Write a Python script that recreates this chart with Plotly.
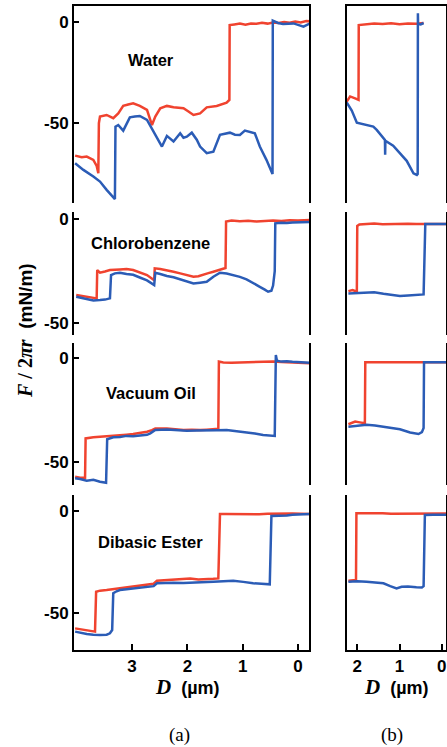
import plotly.graph_objects as go

W, H = 447, 747

# ---------------- data (D in um, F/2piR in mN/m) ----------------
# Row 1: Water, panel (a)
water_a_red_D = [4.03, 3.91, 3.82, 3.70, 3.64, 3.61, 3.60, 3.58, 3.46, 3.34, 3.25, 3.16, 3.07, 2.98, 2.86, 2.73, 2.64, 2.58, 2.49, 2.37, 2.25, 2.07, 1.98, 1.89, 1.77, 1.65, 1.47, 1.29, 1.24, 1.235, 1.15, 1.05, 0.95, 0.85, 0.75, 0.65, 0.55, 0.45, 0.35, 0.25, 0.15, 0.05, -0.05, -0.15, -0.22]
water_a_red_F = [-66.4, -67.2, -66.9, -68.5, -71.5, -75.2, -50.3, -47.0, -46.2, -47.8, -45.4, -41.7, -41.0, -40.4, -41.7, -43.7, -51.2, -47.0, -42.9, -41.7, -42.4, -42.9, -44.5, -46.2, -45.4, -42.4, -41.7, -40.1, -38.7, -1.5, -1.2, -0.8, -1.3, -0.7, -0.9, -0.4, -0.8, -0.3, -0.5, 0.0, -0.4, 0.2, -0.2, 0.5, 0.3]
water_a_blue_D = [4.03, 3.88, 3.70, 3.58, 3.46, 3.37, 3.31, 3.30, 3.25, 3.16, 3.10, 3.04, 2.95, 2.86, 2.73, 2.61, 2.52, 2.46, 2.37, 2.31, 2.25, 2.13, 2.07, 2.01, 1.92, 1.83, 1.77, 1.65, 1.53, 1.41, 1.23, 1.14, 1.05, 0.96, 0.87, 0.78, 0.69, 0.57, 0.46, 0.455, 0.36, 0.27, 0.08, -0.01, -0.10, -0.22]
water_a_blue_F = [-70.2, -73.5, -76.8, -79.3, -83.4, -86.0, -88.0, -52.0, -51.2, -54.0, -50.7, -47.4, -47.0, -46.7, -48.7, -54.5, -58.5, -61.9, -56.6, -58.0, -59.4, -55.3, -57.5, -57.0, -55.0, -58.5, -61.9, -65.2, -64.4, -56.1, -55.0, -56.0, -56.1, -54.0, -54.5, -55.3, -61.9, -68.5, -75.5, 0.7, -0.5, -1.0, -0.7, -1.5, -2.3, -0.7]

# Row 1: Water, panel (b)
water_b_red_D = [2.25, 2.17, 2.05, 1.97, 1.965, 1.80, 1.60, 1.40, 1.20, 1.00, 0.80, 0.60, 0.43]
water_b_red_F = [-39.6, -37.0, -38.0, -38.7, -1.5, -1.2, -0.8, -1.0, -0.6, -1.1, -0.7, -0.9, -0.5]
water_b_blue_D = [2.25, 2.13, 2.01, 1.78, 1.62, 1.54, 1.345, 1.34, 1.335, 1.15, 0.99, 0.83, 0.67, 0.59, 0.57, 0.565, 0.56, 0.50, 0.43]
water_b_blue_F = [-40.0, -44.0, -50.0, -51.2, -52.0, -53.6, -58.6, -66.0, -59.0, -61.5, -65.2, -69.0, -75.2, -76.0, -75.5, 4.3, -1.0, -1.2, -0.5]

# Row 2: Chlorobenzene, panel (a)
chloro_a_red_D = [4.01, 3.91, 3.82, 3.73, 3.64, 3.63, 3.58, 3.49, 3.40, 3.22, 3.10, 2.98, 2.86, 2.73, 2.60, 2.59, 2.49, 2.37, 2.25, 2.13, 2.01, 1.89, 1.80, 1.71, 1.62, 1.53, 1.44, 1.35, 1.31, 1.30, 1.20, 1.05, 0.90, 0.75, 0.60, 0.45, 0.30, 0.15, 0.00, -0.10, -0.22]
chloro_a_red_F = [-36.6, -37.0, -37.4, -37.8, -38.2, -24.5, -25.8, -25.2, -24.5, -24.2, -24.0, -24.5, -25.5, -26.9, -29.4, -23.7, -24.0, -24.5, -25.3, -26.1, -27.0, -27.7, -27.5, -26.9, -26.0, -25.3, -24.5, -23.7, -23.5, -1.1, -0.6, -0.9, -0.7, -1.0, -0.8, -0.6, -0.8, -0.4, -0.6, -0.3, -0.3]
chloro_a_blue_D = [4.01, 3.91, 3.82, 3.70, 3.58, 3.49, 3.40, 3.38, 3.31, 3.22, 3.10, 2.98, 2.86, 2.73, 2.60, 2.58, 2.49, 2.37, 2.25, 2.13, 2.01, 1.89, 1.77, 1.65, 1.53, 1.41, 1.29, 1.17, 1.05, 0.93, 0.81, 0.69, 0.60, 0.54, 0.48, 0.45, 0.42, 0.41, 0.30, 0.20, 0.10, 0.00, -0.10, -0.22]
chloro_a_blue_F = [-37.4, -38.0, -38.7, -39.2, -39.0, -38.8, -38.2, -26.9, -26.1, -25.8, -26.4, -26.8, -28.1, -29.5, -31.8, -25.8, -26.4, -27.4, -28.0, -29.0, -30.0, -31.0, -30.6, -30.2, -27.7, -25.8, -26.2, -26.9, -27.8, -29.0, -30.6, -32.6, -34.0, -35.0, -34.5, -32.0, -25.0, -1.9, -1.6, -1.8, -1.5, -1.4, -1.3, -1.3]

# Row 2: Chlorobenzene, panel (b)
chloro_b_red_D = [2.21, 2.11, 2.01, 2.00, 1.95, 1.80, 1.60, 1.40, 1.20, 1.00, 0.80, 0.60, 0.40, 0.20, 0.00, -0.10]
chloro_b_red_F = [-34.7, -34.2, -35.0, -3.2, -2.5, -2.3, -2.0, -2.4, -2.2, -2.3, -2.1, -2.2, -2.3, -2.2, -2.3, -2.3]
chloro_b_blue_D = [2.21, 2.00, 1.78, 1.60, 1.38, 1.20, 0.99, 0.80, 0.60, 0.43, 0.39, 0.20, 0.00, -0.10]
chloro_b_blue_F = [-35.8, -35.6, -35.5, -35.2, -36.0, -36.6, -37.1, -36.8, -36.6, -36.3, -2.3, -2.2, -2.3, -2.3]

# Row 3: Vacuum Oil, panel (a)
vac_a_red_D = [4.03, 3.94, 3.85, 3.84, 3.70, 3.58, 3.46, 3.34, 3.22, 3.10, 2.98, 2.86, 2.73, 2.64, 2.58, 2.37, 2.22, 2.07, 1.92, 1.77, 1.65, 1.53, 1.44, 1.43, 1.35, 1.20, 1.05, 0.90, 0.75, 0.60, 0.45, 0.30, 0.15, 0.00, -0.10, -0.21]
vac_a_red_F = [-56.9, -57.4, -57.4, -38.5, -38.0, -37.8, -37.3, -37.2, -36.9, -36.7, -36.4, -35.9, -35.3, -34.5, -33.7, -33.7, -34.0, -34.5, -34.3, -34.5, -34.3, -34.1, -33.9, -1.6, -2.0, -2.1, -2.0, -2.1, -1.8, -1.6, -1.6, -1.8, -1.9, -2.2, -2.3, -2.4]
vac_a_blue_D = [4.03, 3.94, 3.82, 3.70, 3.58, 3.47, 3.45, 3.34, 3.22, 3.10, 2.98, 2.86, 2.73, 2.67, 2.58, 2.37, 2.19, 2.01, 1.83, 1.65, 1.47, 1.29, 1.11, 0.93, 0.78, 0.63, 0.51, 0.42, 0.40, 0.38, 0.30, 0.20, 0.10, 0.00, -0.10, -0.21]
vac_a_blue_F = [-57.7, -58.0, -58.8, -58.4, -59.3, -59.8, -38.9, -38.0, -37.8, -37.3, -37.5, -37.3, -36.8, -36.1, -34.5, -34.2, -34.6, -34.8, -34.7, -34.8, -34.6, -34.5, -35.0, -35.7, -36.2, -36.9, -37.0, -37.3, 1.6, -1.2, -1.6, -1.4, -1.7, -1.9, -2.0, -2.1]

# Row 3: Vacuum Oil, panel (b)
vac_b_red_D = [2.21, 2.13, 2.05, 1.94, 1.82, 1.81, 1.60, 1.40, 1.20, 1.00, 0.80, 0.60, 0.40, 0.20, 0.00, -0.10]
vac_b_red_F = [-31.7, -31.0, -30.4, -30.8, -31.2, -1.9, -1.9, -2.0, -1.9, -1.9, -2.0, -1.9, -1.9, -1.9, -1.9, -1.9]
vac_b_blue_D = [2.21, 2.01, 1.78, 1.58, 1.38, 1.18, 0.99, 0.75, 0.55, 0.47, 0.43, 0.42, 0.20, 0.00, -0.10]
vac_b_blue_F = [-32.9, -32.4, -32.0, -32.3, -32.9, -33.5, -34.1, -35.7, -36.4, -35.5, -33.5, -1.9, -1.9, -1.9, -1.9]

# Row 4: Dibasic Ester, panel (a)
ester_a_red_D = [4.03, 3.91, 3.82, 3.73, 3.67, 3.65, 3.58, 3.46, 3.34, 3.22, 3.10, 2.98, 2.86, 2.73, 2.61, 2.55, 2.40, 2.25, 2.10, 1.95, 1.80, 1.65, 1.53, 1.44, 1.41, 1.30, 1.15, 1.00, 0.85, 0.70, 0.55, 0.40, 0.25, 0.10, -0.05, -0.21]
ester_a_red_F = [-57.7, -58.3, -58.8, -59.0, -59.3, -39.7, -39.2, -38.9, -38.5, -38.1, -37.7, -37.3, -37.0, -36.4, -35.8, -34.3, -34.0, -33.7, -33.4, -33.2, -33.7, -33.7, -33.4, -33.2, -1.6, -1.6, -1.7, -1.6, -1.6, -1.7, -1.5, -1.4, -1.3, -1.4, -1.5, -1.6]
ester_a_blue_D = [4.03, 3.91, 3.82, 3.70, 3.58, 3.46, 3.40, 3.36, 3.34, 3.28, 3.22, 3.10, 2.98, 2.86, 2.73, 2.61, 2.55, 2.40, 2.25, 2.07, 1.89, 1.71, 1.53, 1.35, 1.17, 0.99, 0.81, 0.66, 0.51, 0.48, 0.40, 0.30, 0.20, 0.10, 0.00, -0.10, -0.21]
ester_a_blue_F = [-59.3, -60.0, -60.5, -60.8, -61.0, -60.8, -60.1, -58.5, -40.5, -39.5, -38.9, -38.5, -38.1, -37.9, -37.6, -37.0, -35.6, -35.4, -35.3, -35.4, -35.3, -35.0, -34.8, -34.6, -34.3, -34.9, -35.6, -35.8, -36.1, -2.6, -2.6, -2.4, -2.3, -2.0, -1.8, -1.6, -1.6]

# Row 4: Dibasic Ester, panel (b)
ester_b_red_D = [2.21, 2.11, 2.03, 2.02, 1.80, 1.60, 1.40, 1.20, 1.00, 0.80, 0.60, 0.40, 0.20, 0.00, -0.10]
ester_b_red_F = [-34.3, -34.3, -34.0, -1.3, -1.2, -1.4, -1.3, -1.5, -1.5, -1.4, -1.4, -1.4, -1.4, -1.4, -1.4]
ester_b_blue_D = [2.21, 2.00, 1.78, 1.58, 1.38, 1.22, 1.07, 0.95, 0.80, 0.60, 0.47, 0.43, 0.40, 0.20, 0.00, -0.10]
ester_b_blue_F = [-34.8, -34.6, -34.8, -35.2, -35.6, -37.0, -38.1, -37.3, -37.2, -37.5, -37.6, -37.0, -2.1, -2.0, -2.0, -2.0]

liquids = ["Water", "Chlorobenzene", "Vacuum Oil", "Dibasic Ester"]
x_ticks_a = [3, 2, 1, 0]
x_ticks_b = [2, 1, 0]
y_ticks = [0, -50]
y_ticktext = ["0", "-50"]

series = [
    [(water_a_red_D, water_a_red_F, water_a_blue_D, water_a_blue_F),
     (water_b_red_D, water_b_red_F, water_b_blue_D, water_b_blue_F)],
    [(chloro_a_red_D, chloro_a_red_F, chloro_a_blue_D, chloro_a_blue_F),
     (chloro_b_red_D, chloro_b_red_F, chloro_b_blue_D, chloro_b_blue_F)],
    [(vac_a_red_D, vac_a_red_F, vac_a_blue_D, vac_a_blue_F),
     (vac_b_red_D, vac_b_red_F, vac_b_blue_D, vac_b_blue_F)],
    [(ester_a_red_D, ester_a_red_F, ester_a_blue_D, ester_a_blue_F),
     (ester_b_red_D, ester_b_red_F, ester_b_blue_D, ester_b_blue_F)],
]

# ---------------- layout geometry (pixels) ----------------
col_px = [(74.0, 309.3), (346.7, 446.0)]
row_px = [(6.0, 203.3), (211.7, 335.0), (343.3, 485.0), (495.0, 650.0)]
x_ranges = [[4.05, -0.205], [2.25, -0.10]]
y_ranges = [[-90.1, 7.95], [-55.9, 3.7], [-60.9, 7.2], [-68.3, 7.7]]

RED = "#f0432f"
BLUE = "#2b5cb6"
SANS = "Liberation Sans, Arial, sans-serif"
SERIF = "Liberation Serif, Times New Roman, serif"

fig = go.Figure()
layout = {}
for r in range(4):
    for c in range(2):
        idx = r * 2 + c + 1
        sfx = "" if idx == 1 else str(idx)
        rd, rf, bd, bf = series[r][c]
        fig.add_trace(go.Scatter(x=rd, y=rf, mode="lines", line=dict(color=RED, width=2.5),
                                 xaxis="x" + sfx, yaxis="y" + sfx, showlegend=False))
        fig.add_trace(go.Scatter(x=bd, y=bf, mode="lines", line=dict(color=BLUE, width=2.5),
                                 xaxis="x" + sfx, yaxis="y" + sfx, showlegend=False))
        xd = [col_px[c][0] / W, col_px[c][1] / W]
        yd = [1 - row_px[r][1] / H, 1 - row_px[r][0] / H]
        xa = dict(domain=xd, range=x_ranges[c], anchor="y" + sfx, showgrid=False, zeroline=False,
                  linecolor="black", linewidth=2, fixedrange=True)
        if r == 3:
            xa.update(showline=True, ticks="inside", ticklen=6, tickwidth=2, tickcolor="black",
                      tickvals=x_ticks_a if c == 0 else x_ticks_b,
                      tickfont=dict(family=SANS, size=17, weight="bold", color="black"))
        elif r == 0:
            xa.update(side="top", showline=True, ticks="", showticklabels=False)
        else:
            xa.update(showline=False, ticks="", showticklabels=False)
        ya = dict(domain=yd, range=y_ranges[r], anchor="x" + sfx, showgrid=False, zeroline=False,
                  showline=True, mirror=True, linecolor="black", linewidth=2, fixedrange=True)
        if c == 0:
            ya.update(ticks="inside", ticklen=5, tickwidth=2, tickcolor="black",
                      tickvals=y_ticks, ticktext=y_ticktext,
                      tickfont=dict(family=SANS, size=17, weight="bold", color="black"))
        else:
            ya.update(ticks="", showticklabels=False)
        layout["xaxis" + sfx] = xa
        layout["yaxis" + sfx] = ya

label_pos = [(2.66, -18.9), (2.67, -11.5), (2.66, -16.7), (2.66, -15.3)]
annotations = []
for r, name in enumerate(liquids):
    sfx = "" if r == 0 else str(r * 2 + 1)
    annotations.append(dict(x=label_pos[r][0], y=label_pos[r][1], xref="x" + sfx, yref="y" + sfx,
                            xanchor="center", yanchor="middle",
                            text="<b>" + name + "</b>", showarrow=False,
                            font=dict(family=SANS, size=16.5, color="black")))

annotations.append(dict(
    x=25 / W, y=1 - 331 / H, xref="paper", yref="paper", textangle=-90, showarrow=False,
    xanchor="center", yanchor="middle",
    text='<span style="font-family:Liberation Serif;font-size:20px"><b><i>F</i> / 2<i>πr</i></b></span>  <b>(mN/m)</b>',
    font=dict(family=SANS, size=19, color="black")))
for cx in [187, 396]:
    annotations.append(dict(
        x=cx / W, y=1 - 687 / H, xref="paper", yref="paper", showarrow=False,
        xanchor="center", yanchor="middle",
        text='<span style="font-family:Liberation Serif;font-size:21px"><b><i>D</i></b></span>  <b>(µm)</b>',
        font=dict(family=SANS, size=18, color="black")))
for cx, txt in [(179, "(a)"), (392, "(b)")]:
    annotations.append(dict(
        x=cx / W, y=1 - 735 / H, xref="paper", yref="paper", showarrow=False, text=txt,
        xanchor="center", yanchor="middle",
        font=dict(family=SERIF, size=19, color="black")))

fig.update_layout(**layout)
fig.update_layout(width=W, height=H, margin=dict(l=0, r=0, t=0, b=0),
                  paper_bgcolor="white", plot_bgcolor="white",
                  annotations=annotations, showlegend=False)

fig.write_html("out.html", config={"displayModeBar": False})
